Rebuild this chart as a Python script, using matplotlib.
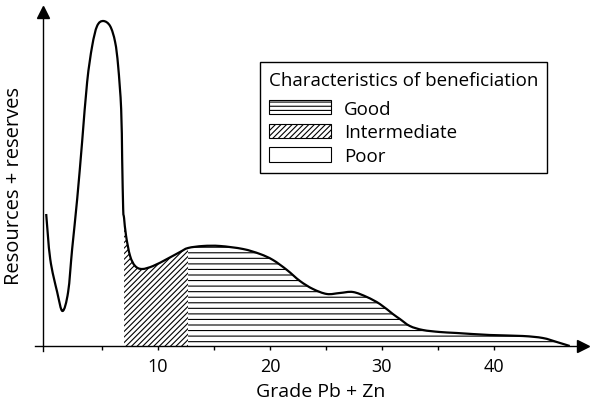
import matplotlib.pyplot as plt
from matplotlib.patches import Patch, PathPatch
from matplotlib.path import Path
import numpy as np

plt.rcParams['font.family'] = ['Open Sans', 'DejaVu Sans']
plt.rcParams['hatch.linewidth'] = 0.8

# curve (grade, relative resources + reserves)
grade = [0.0, 0.36, 0.98, 1.46, 1.96, 2.32, 2.77, 3.21, 3.66, 4.11, 4.55, 5.09,
         5.71, 6.16, 6.43, 6.70, 6.79, 6.88, 6.96, 7.14, 7.50, 7.95, 8.57, 9.55,
         10.80, 11.96, 12.68, 14.02, 15.54, 17.59, 19.11, 20.27, 21.52, 22.68,
         23.84, 25.09, 26.25, 27.41, 28.66, 29.82, 30.98, 31.61, 32.50, 33.66,
         35.18, 36.70, 39.64, 42.59, 44.38, 45.63, 46.79]
amount = [132, 87, 54, 35, 54, 97, 147, 204, 264, 300, 320, 325,
          320, 304, 280, 237, 187, 137, 128, 110, 90, 80, 77, 80,
          87, 94, 98, 100, 100, 97, 92, 86, 76, 65,
          57, 52, 53, 54, 49, 42, 32, 27, 20, 16,
          14, 13, 11, 10, 8, 4, 0]

# beneficiation classes (grade limits)
intermediate_from = 6.96
good_from = 12.68
tick_major = [10, 20, 30, 40]
tick_all = [5, 10, 15, 20, 25, 30, 35, 40]

x = np.array(grade, dtype=float)
y = np.array(amount, dtype=float)
pts = np.column_stack([x, y])


def smooth_verts(p):
    # cubic bezier pieces through the points (catmull-rom style handles)
    verts = [p[0]]
    codes = [Path.MOVETO]
    n = len(p)
    for i in range(n - 1):
        a = p[i - 1] if i > 0 else p[i]
        b = p[i]
        c = p[i + 1]
        d = p[i + 2] if i + 2 < n else p[i + 1]
        verts += [b + (c - a) / 6, c - (d - b) / 6, c]
        codes += [Path.CURVE4] * 3
    return verts, codes


def region(i0, i1):
    verts, codes = smooth_verts(pts[i0:i1 + 1])
    verts += [(x[i1], 0), (x[i0], 0), (x[i0], y[i0])]
    codes += [Path.LINETO, Path.LINETO, Path.CLOSEPOLY]
    return Path(verts, codes)


fig = plt.figure(figsize=(5.94, 4.06), dpi=100)
ax = fig.add_axes([35 / 594, 59 / 406, 555 / 594, 342 / 406])
ax.set_xlim(-1.0, 48.6)
ax.set_ylim(0, 342)

i_mid = int(np.where(x == intermediate_from)[0][0])
i_good = int(np.where(x == good_from)[0][0])
ax.add_patch(PathPatch(region(i_mid, i_good), facecolor='white', edgecolor='black',
                       hatch='//////', linewidth=0))
ax.add_patch(PathPatch(region(i_good, len(x) - 1), facecolor='white', edgecolor='black',
                       hatch='---', linewidth=0))
v, c = smooth_verts(pts)
ax.add_patch(PathPatch(Path(v, c), facecolor='none', edgecolor='black', lw=1.6))

# axes with arrows
for s in ax.spines.values():
    s.set_visible(False)
ax.plot([-1.0, 47.6], [0, 0], color='black', lw=1, clip_on=False)
ax.plot([-0.25, -0.25], [-5, 332], color='black', lw=1, clip_on=False)
ax.plot(48.0, 0, marker='>', color='black', ms=8, clip_on=False)
ax.plot(-0.25, 334, marker='^', color='black', ms=8, clip_on=False)

ax.set_xticks(tick_all)
ax.set_xticklabels([str(t) if t in tick_major else '' for t in tick_all])
ax.tick_params(axis='x', direction='out', length=3, width=1, labelsize=13, pad=5)
ax.set_yticks([])

ax.set_xlabel('Grade Pb + Zn', fontsize=14)
ax.xaxis.set_label_coords(0.514, -0.105)
ax.set_ylabel('Resources + reserves', fontsize=14.5)
ax.yaxis.set_label_coords(-0.02, 0.47)

handles = [Patch(facecolor='white', edgecolor='black', hatch='----', lw=0.8, label='Good'),
           Patch(facecolor='white', edgecolor='black', hatch='//////', lw=0.8, label='Intermediate'),
           Patch(facecolor='white', edgecolor='black', lw=0.8, label='Poor')]
leg = ax.legend(handles=handles, title='Characteristics of beneficiation',
                loc='upper right', bbox_to_anchor=(0.922, 0.83),
                fontsize=13.5, title_fontsize=13.5, alignment='left',
                fancybox=False, edgecolor='black', framealpha=1,
                handlelength=3.3, handleheight=0.8, labelspacing=0.3,
                handletextpad=0.7, borderpad=0.45, borderaxespad=0)
leg.get_frame().set_linewidth(1)
leg._legend_box.sep = 8

fig.savefig('out.png', dpi=100)
